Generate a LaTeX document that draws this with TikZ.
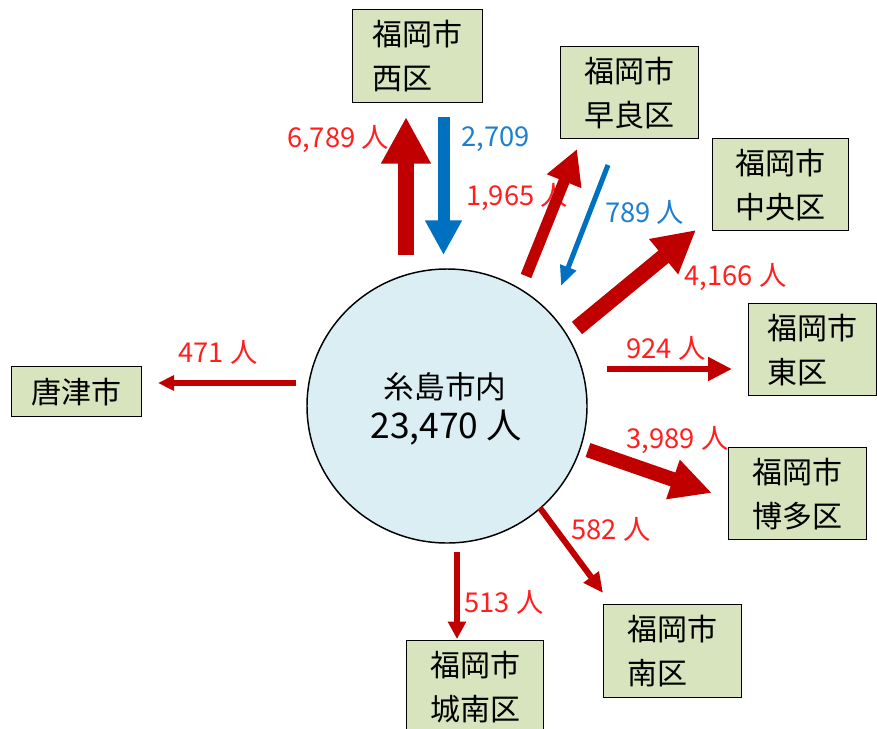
\documentclass[tikz,border=0pt]{standalone}
\usepackage{fontspec}
\newfontfamily\jp{Noto Sans CJK JP}
\usetikzlibrary{arrows.meta,shapes.geometric}
\definecolor{arrred}{HTML}{C00000}
\definecolor{arrblue}{HTML}{0070C0}
\definecolor{lblred}{HTML}{FF1F1F}
\definecolor{lblblue}{HTML}{1F7FCF}
\definecolor{boxfill}{HTML}{D7E4BD}
\definecolor{circfill}{HTML}{DAEEF3}
\begin{document}
\begin{tikzpicture}[x=0.75pt,y=-0.75pt,
  box/.style={draw=black, line width=1.1pt, fill=boxfill, font=\jp\fontsize{22.5pt}{33pt}\selectfont, align=left, inner sep=0pt, anchor=north west},
  lbl/.style={font=\jp\fontsize{20.5pt}{24pt}\selectfont, inner sep=0pt},
  fl/.style n args={4}{line width=#1, draw=#4, -{Triangle[length=#2,width=#3]}}
]
\useasboundingbox (0,0) rectangle (877,728);

% boxes
\node (nishi) [box, minimum width=97.5pt, minimum height=69.75pt] at (352,9) {福岡市\\西区};
\node (sawara) [box, minimum width=103.5pt, minimum height=69pt] at (560,46) {福岡市\\早良区};
\node (chuo) [box, minimum width=102pt, minimum height=69pt] at (712,138) {福岡市\\中央区};
\node (higashi) [box, minimum width=96pt, minimum height=69pt] at (748,303) {福岡市\\東区};
\node (hakata) [box, minimum width=103.5pt, minimum height=69pt] at (728,447) {福岡市\\博多区};
\node (minami) [box, minimum width=103.5pt, minimum height=69.75pt] at (603,604) {福岡市\\南区};
\node (jonan) [box, minimum width=102.75pt, minimum height=69.75pt] at (406,640) {福岡市\\城南区};
\node (karatsu) [box, minimum width=97.5pt, minimum height=37.5pt] at (11,366) {唐津市};

% centre
\node (city) [ellipse, draw=black, line width=1.1pt, fill=circfill, minimum width=210pt, minimum height=205.5pt, inner sep=0pt] at (447,406) {};
\node (cityname) [font=\jp\fontsize{23pt}{28pt}\selectfont, inner sep=0pt] at (445,387) {糸島市内};
\node (citynum) [font=\jp\fontsize{26.5pt}{30pt}\selectfont, inner sep=0pt] at (446,428) {23,470 人};

% labels
\node (l1) [lbl, text=lblred] at (338,139) {6,789 人};
\node (l2) [lbl, text=lblblue] at (495.5,139) {2,709};
\node (l3) [lbl, text=lblred] at (517,197) {1,965 人};
\node (l4) [lbl, text=lblblue] at (644.5,212) {789 人};
\node (l5) [lbl, text=lblred] at (735.5,277) {4,166 人};
\node (l6) [lbl, text=lblred] at (666,348) {924 人};
\node (l7) [lbl, text=lblred] at (677.5,440) {3,989 人};
\node (l8) [lbl, text=lblred] at (611,529) {582 人};
\node (l9) [lbl, text=lblred] at (504,602) {513 人};
\node (l10) [lbl, text=lblred] at (218,352) {471 人};

% arrow ends
\coordinate (a1s) at (406,255);   \coordinate (a1e) at (406,117);
\coordinate (a2s) at (443.5,117); \coordinate (a2e) at (443.5,255);
\coordinate (a3s) at (526,276);   \coordinate (a3e) at (577,149);
\coordinate (a4s) at (608,165);   \coordinate (a4e) at (561,286);
\coordinate (a5s) at (577,328);   \coordinate (a5e) at (696,230);
\coordinate (a6s) at (607,369);   \coordinate (a6e) at (732,369);
\coordinate (a7s) at (588,450);   \coordinate (a7e) at (712,493);
\coordinate (a8s) at (540,508);   \coordinate (a8e) at (603,593);
\coordinate (a9s) at (457,552);   \coordinate (a9e) at (457,639);
\coordinate (a10s) at (296,383);  \coordinate (a10e) at (158,383);

\draw[fl={12pt}{35pt}{35pt}{arrred}] (a1s) -- (a1e);
\draw[fl={9pt}{26pt}{26pt}{arrblue}] (a2s) -- (a2e);
\draw[fl={8.5pt}{26pt}{26pt}{arrred}] (a3s) -- (a3e);
\draw[fl={3.8pt}{15pt}{12pt}{arrblue}] (a4s) -- (a4e);
\draw[fl={12pt}{31.5pt}{32pt}{arrred}] (a5s) -- (a5e);
\draw[fl={5pt}{18pt}{17pt}{arrred}] (a6s) -- (a6e);
\draw[fl={11pt}{31pt}{29pt}{arrred}] (a7s) -- (a7e);
\draw[fl={4.5pt}{15pt}{13.5pt}{arrred}] (a8s) -- (a8e);
\draw[fl={4.5pt}{13pt}{13pt}{arrred}] (a9s) -- (a9e);
\draw[fl={4pt}{12pt}{11pt}{arrred}] (a10s) -- (a10e);
\end{tikzpicture}
\end{document}
